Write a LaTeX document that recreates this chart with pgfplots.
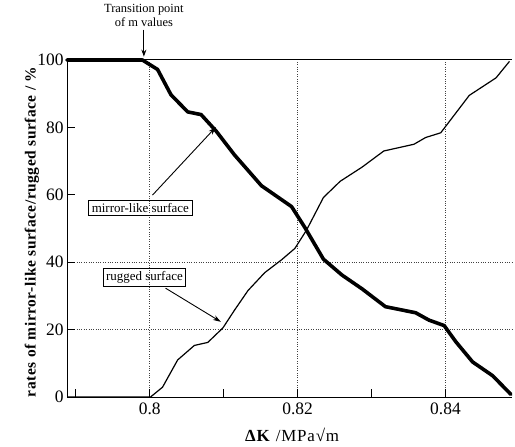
\documentclass[border=0pt]{standalone}
\usepackage{fontspec}
\setmainfont{Liberation Serif}
\newfontfamily\ylabfont[LetterSpace=3.5]{Liberation Serif}
\newfontfamily\xlabfont[LetterSpace=5]{Liberation Serif}
\usepackage{pgfplots}
\pgfplotsset{compat=1.18}
\usetikzlibrary{arrows.meta}
\begin{document}
\begin{tikzpicture}
\path[use as bounding box] (-67bp,-50bp) rectangle (448bp,397bp);
\begin{axis}[
  at={(0,0)}, anchor=south west,
  scale only axis, width=445bp, height=337bp,
  xmin=0.7888, xmax=0.849, ymin=0, ymax=100,
  clip=false,
  axis x line=box, axis y line=left,
  axis line style={line width=1bp, -},
  xtick={0.8,0.82,0.84}, xticklabels={0.8,0.82,0.84},
  minor xtick={0.79,0.81,0.83},
  ytick={0,20,40,60,80,100},
  xtick pos=left, ytick pos=left,
  tick align=inside,
  major tick length=8bp, minor tick length=8bp,
  every tick/.style={black, line width=0.9bp},
  xmajorgrids,
  major grid style={dotted, line width=0.9bp, black!75},
  extra y ticks={20,40},
  extra y tick labels={},
  extra y tick style={grid=major},
  /pgf/number format/assume math mode=true,
  tick label style={font=\fontsize{17.5}{19}\selectfont},
  xticklabel style={yshift=-2bp},
  ylabel={\ylabfont\bfseries rates of mirror-like surface/rugged surface / \%},
  ylabel style={at={(axis description cs:-0.0787,0.49)}, anchor=center, font=\fontsize{15.5}{17}\selectfont},
  xlabel={\xlabfont\textbf{ΔK} /MPa√m},
  xlabel style={at={(axis description cs:0.506,-0.113)}, anchor=center, font=\fontsize{17}{19}\selectfont},
]
\addplot[black, line width=3.6bp, line join=round, line cap=round] coordinates {
(0.7888,100)(0.7990,100)(0.80105,97.2)(0.80286,89.7)(0.80513,84.6)(0.80694,83.8)
(0.80898,78.9)(0.81147,71.8)(0.81510,62.7)(0.81918,56.5)(0.82095,50.4)(0.82349,40.9)
(0.82599,36.2)(0.82871,32.1)(0.83188,26.8)(0.83596,25.0)(0.83778,22.8)(0.83982,21.2)
(0.84140,16.4)(0.84367,10.4)(0.84639,6.3)(0.84884,0.8)};
\addplot[black, line width=1.2bp, line join=round] coordinates {
(0.7888,0)(0.8001,0)(0.80172,2.9)(0.80377,11.0)(0.80603,15.3)(0.80785,16.2)
(0.80989,20.5)(0.81147,25.8)(0.81329,31.6)(0.81555,36.9)(0.81782,40.7)(0.81963,44.1)
(0.8212,49.5)(0.82349,59.2)(0.82575,64.0)(0.82871,68.2)(0.83166,73.0)(0.83574,75.0)
(0.83732,77.0)(0.83936,78.4)(0.84322,89.5)(0.84684,94.7)(0.84866,99.6)};
% annotations
\node[align=center, font=\fontsize{12.5}{14}\selectfont] at (axis cs:0.7992,113.3) {Transition point\\of m values};
\draw[-{Stealth[length=7bp,width=5bp]}, line width=0.9bp] (axis cs:0.7992,109.0) -- (axis cs:0.7992,101.0);
\node[draw, line width=0.9bp, inner xsep=3bp, inner ysep=3bp, font=\fontsize{13}{15}\selectfont] at (axis cs:0.79873,56.1) {mirror-like surface};
\draw[-{Stealth[length=8bp,width=5bp]}, line width=0.9bp] (axis cs:0.80036,59.9) -- (axis cs:0.80894,80.1);
\node[draw, line width=0.9bp, inner xsep=3bp, inner ysep=3bp, font=\fontsize{13}{15}\selectfont] at (axis cs:0.79928,35.6) {rugged surface};
\draw[-{Stealth[length=8bp,width=5bp]}, line width=0.9bp] (axis cs:0.80213,32.3) -- (axis cs:0.80962,22.3);
\end{axis}
\end{tikzpicture}
\end{document}
